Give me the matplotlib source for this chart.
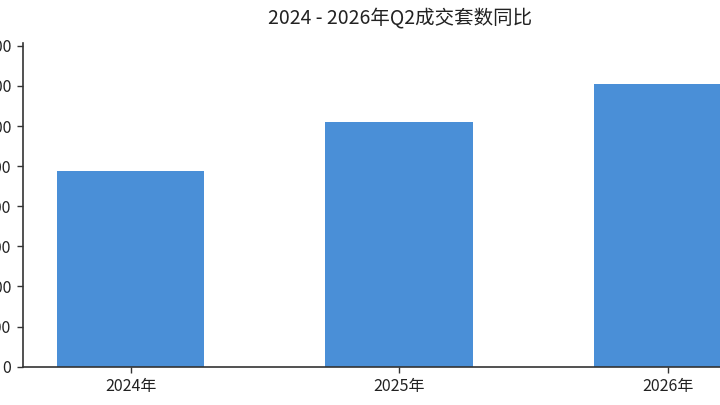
import matplotlib
matplotlib.use("Agg")
from matplotlib import pyplot as plt

plt.rcParams['font.family'] = ['Noto Sans CJK SC', 'DejaVu Sans']

years = ['2024年', '2025年', '2026年']
deals = [488, 610, 705]
y_ticks = [0, 100, 200, 300, 400, 500, 600, 700, 800]

fig = plt.figure(figsize=(7.2, 4.05), dpi=100)
# axes run past the right edge of the picture, like the reference crop
ax = fig.add_axes([0.032, 0.0946, 1.045, 0.8])

x = list(range(len(years)))
ax.bar(x, deals, width=0.55, color='#4A8FD7')

ax.set_xlim(-0.4, 2.4)
ax.set_ylim(0, 808)
ax.set_xticks(x)
ax.set_xticklabels(years, fontsize=11.5, color='#222222')
ax.set_yticks(y_ticks)
ax.set_yticklabels([str(v) for v in y_ticks], fontsize=11.5, color='#222222')
ax.tick_params(axis='both', length=4.5, width=1, color='#333333', pad=4)

for side in ['top', 'right']:
    ax.spines[side].set_visible(False)
for side in ['left', 'bottom']:
    ax.spines[side].set_color('#333333')
    ax.spines[side].set_linewidth(1.2)

fig.text(400 / 720, 1 - 18 / 405, '2024 - 2026年Q2成交套数同比',
         ha='center', va='center', fontsize=14, color='#222222')

fig.savefig('out.png', dpi=100)
